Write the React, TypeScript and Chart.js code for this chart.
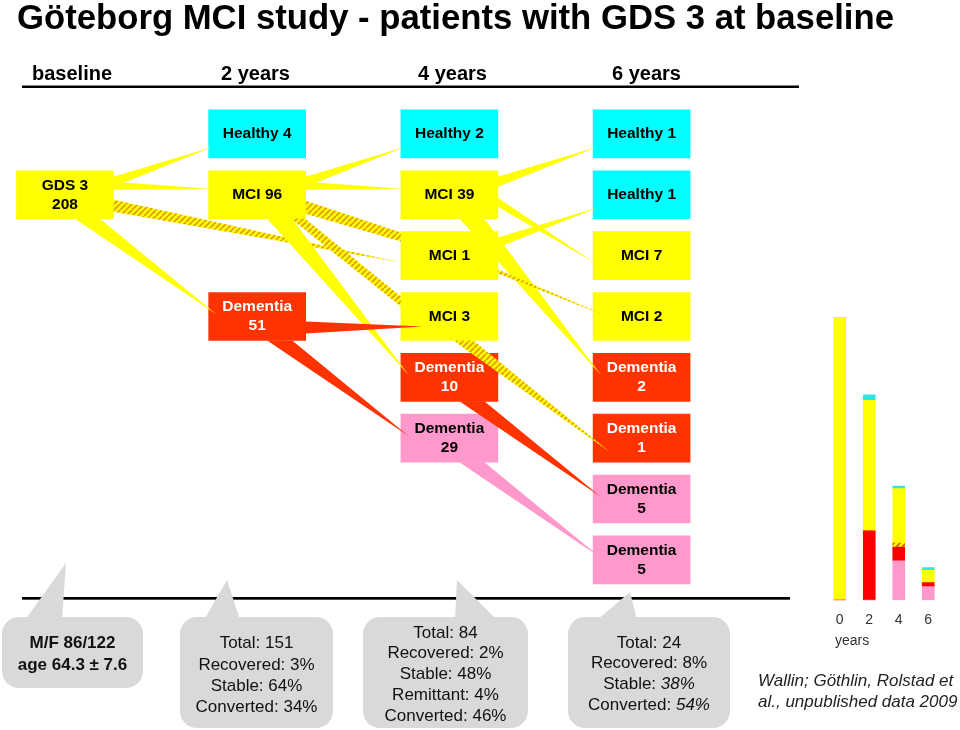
import React, { useEffect, useRef } from 'react';
import { Chart, registerables } from 'chart.js';

Chart.register(...registerables);

// ---------------- data ----------------
const yearLabels = ['baseline', '2 years', '4 years', '6 years'];

// flow-diagram boxes
const boxYear = [0, 2, 2, 2, 4, 4, 4, 4, 4, 4, 6, 6, 6, 6, 6, 6, 6, 6];
const boxRow = [1, 0, 1, 3, 0, 1, 2, 3, 4, 5, 0, 1, 2, 3, 4, 5, 6, 7];
const boxName = ['GDS 3', 'Healthy', 'MCI', 'Dementia', 'Healthy', 'MCI', 'MCI', 'MCI', 'Dementia', 'Dementia',
  'Healthy', 'Healthy', 'MCI', 'MCI', 'Dementia', 'Dementia', 'Dementia', 'Dementia'];
const boxCount = [208, 4, 96, 51, 2, 39, 1, 3, 10, 29, 1, 1, 7, 2, 2, 1, 5, 5];
const boxState = ['gds', 'healthy', 'mci', 'dementia', 'healthy', 'mci', 'mci', 'mci', 'dementia', 'dementia2',
  'healthy', 'healthy', 'mci', 'mci', 'dementia', 'dementia', 'dementia2', 'dementia2'];

// transitions between boxes (indices into the box arrays)
const flowFrom = [0, 0, 0, 0, 2, 2, 2, 2, 2, 3, 3, 5, 5, 6, 5, 6, 7, 8, 9];
const flowTo = [1, 2, 6, 3, 4, 5, 6, 7, 8, 7, 9, 10, 12, 11, 14, 13, 15, 16, 17];
const flowHatched = [false, false, true, false, false, false, true, true, false, false, false,
  false, false, false, false, true, true, false, false];

// summary bubbles
const bubbleBaseline = ['M/F 86/122', 'age 64.3 ± 7.6'];
const bubbleYear2 = ['Total: 151', 'Recovered: 3%', 'Stable: 64%', 'Converted: 34%'];
const bubbleYear4 = ['Total: 84', 'Recovered: 2%', 'Stable: 48%', 'Remittant: 4%', 'Converted: 46%'];

// mini stacked bar chart
const miniYears = ['0', '2', '4', '6'];
const miniDementiaB = [0, 0, 29, 10];
const miniDementia = [0, 51, 10, 3];
const miniReverted = [0, 0, 3, 0];
const miniMci = [208, 96, 40, 9];
const miniHealthy = [0, 4, 2, 2];

// ---------------- layout / style ----------------
const FONT = '"Liberation Sans", Arial, Helvetica, sans-serif';
const X_MIN = -0.676, X_MAX = 9.313;
const Y_MIN = -2.2, Y_MAX = 9.795;
const BOX_HALF = 0.394;
const BOX_W = 97;
const headerLeft = [32, 221, 418, 612];

const boxFill: Record<string, string> = {
  gds: '#FFFF00', mci: '#FFFF00', healthy: '#00FFFF', dementia: '#FF3300', dementia2: '#FF99CC',
};
const flowFill: Record<string, string> = {
  gds: '#FFFF00', mci: '#FFFF00', healthy: '#00FFFF', dementia: '#FF3300', dementia2: '#FF99CC',
};

function makeHatch(ctx: CanvasRenderingContext2D, stripe: string) {
  const c = document.createElement('canvas');
  c.width = 6; c.height = 6;
  const g = c.getContext('2d')!;
  g.fillStyle = '#FFFF00';
  g.fillRect(0, 0, 6, 6);
  g.strokeStyle = stripe;
  g.lineWidth = 1.8;
  g.beginPath();
  for (const o of [-6, 0, 6]) { g.moveTo(o, 6); g.lineTo(o + 6, 0); }
  g.stroke();
  return ctx.createPattern(c, 'repeat')!;
}

type R = { cx: number; cy: number; l: number; r: number; t: number; b: number };
function rectOf(el: any): R {
  const t = Math.min(el.y, el.base), b = Math.max(el.y, el.base);
  return { cx: el.x, cy: (t + b) / 2, l: el.x - el.width / 2, r: el.x + el.width / 2, t, b };
}

function flowPolygon(k: number, s: R, t: R): number[][] {
  const from = flowFrom[k], to = flowTo[k];
  const dr = boxRow[to] - boxRow[from];
  const span = (boxYear[to] - boxYear[from]) / 2;
  if (!flowHatched[k]) {
    if (dr >= 2) return [[s.cx + 10, s.b], [s.cx + 35, s.b], [t.l + 8, t.cy - 2]];
    if (dr === -1) return [[s.r, s.cy - 18], [s.r, s.cy - 8], [t.l + 4, t.cy + 13]];
    if (dr === 0) {
      if (boxState[from].startsWith('dementia')) return [[s.r, s.cy + 5], [s.r, s.cy + 17], [t.l + 22, t.cy + 10]];
      return [[s.r, s.cy - 13], [s.r, s.cy - 5], [t.l + 1, t.cy - 6]];
    }
    return [[s.r, s.cy + 3], [s.r, s.cy + 12], [t.l + 1, t.cy + 7]];
  }
  const big = boxCount[from] >= 50;
  if (big) {
    if (dr >= 2) return [[s.cx + 34, s.b], [s.cx + 48, s.b], [t.l, t.cy - 20], [t.l, t.cy - 10]];
    if (span === 1) return [[s.r, s.cy + 6], [s.r, s.cy + 19], [t.l, t.cy - 14], [t.l, t.cy - 23]];
    return [[s.r, s.cy + 5], [s.r, s.cy + 17], [t.l, t.cy + 7]];
  }
  if (dr >= 2) return [[s.cx + 4, s.b], [s.cx + 24, s.b], [t.l + 17, t.cy + 14]];
  return [[s.r, s.cy + 14], [s.r, s.cy + 18], [t.l + 17, t.cy + 1]];
}

export default function App() {
  const mainRef = useRef<HTMLCanvasElement>(null);
  const miniRef = useRef<HTMLCanvasElement>(null);

  useEffect(() => {
    const mainCtx = mainRef.current!.getContext('2d')!;
    const miniCtx = miniRef.current!.getContext('2d')!;
    const hatchMain = makeHatch(mainCtx, '#E3A000');
    const hatchMini = makeHatch(miniCtx, '#E06000');

    const flowPlugin = {
      id: 'flowsAndLabels',
      afterDatasetsDraw(chart: any) {
        const ctx: CanvasRenderingContext2D = chart.ctx;
        const meta = chart.getDatasetMeta(0);
        ctx.save();
        for (let k = 0; k < flowFrom.length; k++) {
          const s = rectOf(meta.data[flowFrom[k]]);
          const t = rectOf(meta.data[flowTo[k]]);
          const pts = flowPolygon(k, s, t);
          ctx.beginPath();
          ctx.moveTo(pts[0][0], pts[0][1]);
          for (let i = 1; i < pts.length; i++) ctx.lineTo(pts[i][0], pts[i][1]);
          ctx.closePath();
          ctx.fillStyle = flowHatched[k] ? hatchMain : flowFill[boxState[flowFrom[k]]];
          ctx.fill();
        }
        // labels
        ctx.font = `bold 15.5px ${FONT}`;
        ctx.textAlign = 'center';
        ctx.textBaseline = 'middle';
        for (let i = 0; i < boxName.length; i++) {
          const r = rectOf(meta.data[i]);
          ctx.fillStyle = boxState[i] === 'dementia' ? '#FFFFFF' : '#000000';
          const twoLine = boxName[i] === 'GDS 3' || boxName[i] === 'Dementia';
          if (twoLine) {
            ctx.fillText(boxName[i], r.cx, r.cy - 9.5);
            ctx.fillText(String(boxCount[i]), r.cx, r.cy + 9.5);
          } else {
            ctx.fillText(`${boxName[i]} ${boxCount[i]}`, r.cx, r.cy);
          }
        }
        ctx.restore();
      },
    };

    const main = new Chart(mainRef.current!, {
      type: 'bar',
      data: {
        datasets: [{
          data: boxYear.map((x, i) => ({ x, y: [boxRow[i] - BOX_HALF, boxRow[i] + BOX_HALF] })) as any,
          backgroundColor: boxState.map((s) => boxFill[s]),
          borderWidth: 0,
          barThickness: BOX_W,
          grouped: false,
        } as any],
      },
      options: {
        responsive: false,
        maintainAspectRatio: false,
        animation: false,
        events: [],
        layout: { padding: 0 },
        scales: {
          x: { type: 'linear', min: X_MIN, max: X_MAX, display: false, offset: false },
          y: { type: 'linear', min: Y_MIN, max: Y_MAX, reverse: true, display: false },
        },
        plugins: { legend: { display: false }, tooltip: { enabled: false } },
      } as any,
      plugins: [flowPlugin],
    });

    const mini = new Chart(miniRef.current!, {
      type: 'bar',
      data: {
        labels: miniYears,
        datasets: [
          { data: miniDementiaB, backgroundColor: '#FF99CC' },
          { data: miniDementia, backgroundColor: '#FF0000' },
          { data: miniReverted, backgroundColor: hatchMini as any },
          { data: miniMci, backgroundColor: '#FFFF00' },
          { data: miniHealthy, backgroundColor: '#2EE6E6' },
        ],
      },
      options: {
        responsive: false,
        maintainAspectRatio: false,
        animation: false,
        events: [],
        layout: { padding: 0 },
        datasets: { bar: { barThickness: 12, borderWidth: 0 } },
        scales: {
          x: {
            stacked: true,
            grid: { display: false, drawTicks: false },
            border: { display: false },
            ticks: { color: '#333333', padding: 12, font: { family: FONT, size: 14 } },
          },
          y: { stacked: true, display: false, min: 0, max: 220 },
        },
        plugins: { legend: { display: false }, tooltip: { enabled: false } },
      } as any,
    });

    return () => { main.destroy(); mini.destroy(); };
  }, []);

  const abs = (extra: React.CSSProperties): React.CSSProperties => ({ position: 'absolute', whiteSpace: 'nowrap', ...extra });
  const bubbleText = (lines: React.ReactNode[], cx: number, top: number, lh: number, bold = false) => (
    <div style={abs({ left: cx - 100, width: 200, top, textAlign: 'center', fontSize: 17, lineHeight: `${lh}px`, fontWeight: bold ? 'bold' : 'normal', color: '#111' })}>
      {lines.map((l, i) => <div key={i}>{l}</div>)}
    </div>
  );

  return (
    <div style={{ position: 'absolute', left: 0, top: 0, width: 960, height: 730, overflow: 'hidden', background: '#FFFFFF', fontFamily: FONT, color: '#000' }}>
      <canvas ref={mainRef} width={960} height={730} style={{ position: 'absolute', left: 0, top: 0 }} />
      <svg width={960} height={730} style={{ position: 'absolute', left: 0, top: 0 }}>
        <rect x={22} y={85.5} width={777} height={2.5} fill="#000" />
        <rect x={22} y={597} width={768} height={2.7} fill="#000" />
        <g fill="#D9D9D9">
          <polygon points="66,563 25,620 62,620" />
          <polygon points="227,580 204,620 240,620" />
          <polygon points="457,580 455,620 497,620" />
          <polygon points="630,592 597,620 637,620" />
          <rect x={2} y={617} width={141} height={71} rx={17} />
          <rect x={180} y={617} width={153} height={111} rx={17} />
          <rect x={363} y={617} width={165} height={111} rx={17} />
          <rect x={568} y={617} width={162} height={111} rx={17} />
        </g>
      </svg>
      <canvas ref={miniRef} width={120} height={340} style={{ position: 'absolute', left: 824, top: 301 }} />

      <div style={abs({ left: 17, top: -3, fontSize: 34.7, lineHeight: '40px', fontWeight: 'bold' })}>
        Göteborg MCI study - patients with GDS 3 at baseline
      </div>
      {yearLabels.map((t, i) => (
        <div key={t} style={abs({ left: headerLeft[i], top: 61, fontSize: 20, lineHeight: '24px', fontWeight: 'bold' })}>{t}</div>
      ))}

      {bubbleText(bubbleBaseline, 72.5, 632, 22, true)}
      {bubbleText(bubbleYear2, 256.5, 632.4, 21.3)}
      {bubbleText(bubbleYear4, 445.5, 622.6, 20.75)}
      {bubbleText([
        'Total: 24',
        'Recovered: 8%',
        <span>Stable: <i>38%</i></span>,
        <span>Converted: <i>54%</i></span>,
      ], 649, 632.6, 20.7)}

      <div style={abs({ left: 835, top: 632, fontSize: 14, lineHeight: '16px', color: '#333' })}>years</div>
      <div style={abs({ left: 758, top: 669.6, fontSize: 17, lineHeight: '21px', fontStyle: 'italic', color: '#222' })}>
        <div>Wallin; Göthlin, Rolstad et</div>
        <div>al., unpublished data 2009</div>
      </div>
    </div>
  );
}
